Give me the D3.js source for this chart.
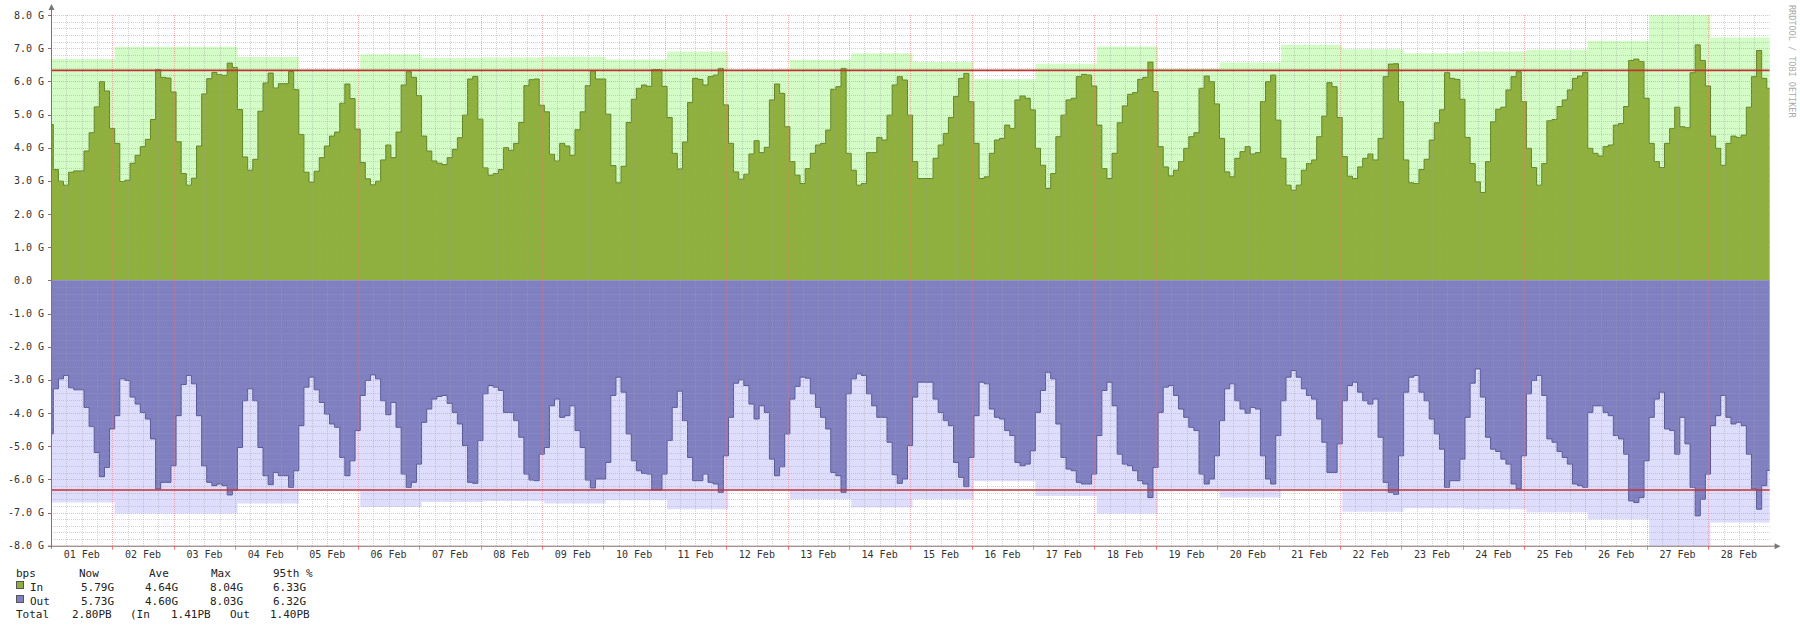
<!DOCTYPE html>
<html><head><meta charset="utf-8">
<script src="https://cdn.jsdelivr.net/npm/d3@7"></script>
<style>
html,body{margin:0;padding:0;background:#fff;}
svg{display:block;}
text{font-family:"DejaVu Sans Mono","Liberation Mono",monospace;white-space:pre;}
</style></head><body>
<svg id="chart" width="1800" height="628"></svg>
<script>
// ---------------- data ----------------
const dayLabels = ["01 Feb","02 Feb","03 Feb","04 Feb","05 Feb","06 Feb","07 Feb","08 Feb","09 Feb","10 Feb",
  "11 Feb","12 Feb","13 Feb","14 Feb","15 Feb","16 Feb","17 Feb","18 Feb","19 Feb","20 Feb",
  "21 Feb","22 Feb","23 Feb","24 Feb","25 Feb","26 Feb","27 Feb","28 Feb"];
const yTickValues = [-8,-7,-6,-5,-4,-3,-2,-1,0,1,2,3,4,5,6,7,8];

// 2-hour averages (Gbps); first value is a partial step before the first full 2h bucket
const inAvg = [4.70,
 3.34,2.99,2.87,3.26,3.30,3.30,3.90,4.45,5.23,5.99,5.71,4.58,
 4.13,2.98,3.02,3.53,3.77,4.03,4.25,4.85,6.35,6.12,6.10,5.68,
 4.18,3.22,2.87,3.08,4.05,5.62,6.08,6.27,6.20,6.18,6.55,6.42,
 5.15,3.72,3.32,3.65,5.10,5.95,6.25,5.80,5.93,5.93,6.30,5.75,
 4.40,3.26,2.96,3.29,3.70,4.05,4.35,4.47,5.34,5.92,5.48,4.56,
 3.55,3.06,2.88,2.99,3.63,4.08,3.70,4.47,5.89,6.29,6.12,5.57,
 4.35,3.90,3.60,3.53,3.49,3.70,3.95,4.30,4.98,6.07,6.15,4.86,
 3.39,3.17,3.22,3.34,4.00,3.92,4.13,4.76,5.87,6.05,6.07,5.28,
 5.08,3.80,3.60,4.13,4.05,3.77,4.54,5.08,5.87,6.32,6.07,6.07,
 5.01,3.46,2.94,3.44,4.76,5.46,5.79,5.89,5.85,6.35,6.35,5.85,
 4.91,3.83,3.36,4.17,5.36,6.09,6.06,5.89,6.14,6.19,6.39,5.29,
 4.13,3.27,3.05,3.20,3.81,4.21,3.85,4.01,5.44,5.92,5.64,4.63,
 3.58,3.17,2.92,3.37,3.83,4.08,4.13,4.53,5.76,5.84,6.39,3.83,
 3.32,2.87,2.92,3.85,3.85,4.31,4.23,4.98,5.89,6.14,6.04,4.98,
 3.58,3.07,3.07,3.07,3.68,4.08,4.43,4.91,5.54,6.09,6.24,5.39,
 4.13,3.07,3.12,3.83,4.23,4.28,4.68,4.58,5.44,5.56,5.49,5.14,
 3.98,3.47,2.77,3.22,4.33,4.98,5.44,5.49,6.14,6.21,6.19,5.86,
 4.68,3.37,3.07,3.83,4.75,5.26,5.61,5.66,6.06,6.12,6.58,5.69,
 4.03,3.42,3.15,3.32,3.58,3.98,4.33,4.45,5.79,6.16,5.99,5.32,
 4.28,3.27,3.12,3.68,3.88,4.03,3.81,3.85,5.39,5.99,6.19,4.83,
 3.68,2.87,2.72,2.87,3.32,3.52,3.63,4.33,4.95,5.96,5.84,4.91,
 3.73,3.14,3.07,3.42,3.68,3.81,3.63,4.28,6.14,6.52,6.53,5.39,
 3.63,2.94,2.92,3.34,3.65,4.23,4.75,5.14,6.26,6.09,6.06,5.46,
 4.31,3.52,2.97,2.65,3.58,4.78,5.16,5.22,5.74,6.14,6.29,5.39,
 3.98,3.40,2.87,3.52,4.81,4.85,5.24,5.44,5.74,6.09,6.16,6.27,
 3.98,3.83,3.75,4.03,4.08,4.68,4.73,5.24,6.63,6.67,6.60,5.49,
 4.13,3.58,3.40,4.13,4.58,5.22,4.63,4.60,6.26,7.10,6.63,5.86,
 4.35,3.98,3.47,4.13,4.35,4.31,4.38,5.22,6.14,6.93,6.09,5.79];

const outAvg = [4.63,
 3.27,2.97,2.87,3.24,3.30,3.30,3.83,4.41,5.19,5.92,5.64,4.48,
 4.08,2.97,3.02,3.52,3.73,3.98,4.18,4.78,6.29,6.09,6.09,5.59,
 4.08,3.14,2.87,3.12,4.08,5.59,6.09,6.19,6.14,6.19,6.47,6.32,
 5.04,3.63,3.27,3.63,5.04,5.89,6.16,5.79,5.89,5.89,6.24,5.74,
 4.38,3.22,2.92,3.30,3.68,4.03,4.33,4.43,5.34,5.89,5.44,4.53,
 3.47,3.02,2.85,2.97,3.63,4.05,3.68,4.43,5.84,6.24,6.09,5.54,
 4.28,3.88,3.58,3.50,3.47,3.71,3.98,4.33,4.98,6.09,6.12,4.83,
 3.42,3.17,3.22,3.32,3.98,3.98,4.23,4.73,5.84,6.02,6.04,5.24,
 5.04,3.78,3.58,4.13,4.08,3.78,4.53,5.04,6.02,6.26,5.99,5.99,
 5.49,3.47,2.92,3.37,4.63,5.44,5.74,5.82,5.84,6.32,6.32,5.84,
 4.83,3.83,3.34,4.23,5.34,6.04,6.04,5.84,6.09,6.14,6.39,5.29,
 4.13,3.10,3.00,3.17,3.73,4.18,3.78,3.98,5.39,5.89,5.62,4.63,
 3.58,3.20,2.92,2.95,3.42,3.83,4.13,4.48,5.79,5.89,6.39,3.42,
 2.97,2.82,2.87,3.42,3.78,4.13,4.13,4.88,5.86,6.12,5.99,4.98,
 3.52,3.07,3.07,3.07,3.58,3.98,4.23,4.38,5.49,5.94,6.22,5.34,
 4.08,3.07,3.12,3.88,4.13,4.18,4.53,4.68,5.49,5.59,5.54,5.14,
 3.98,3.32,2.77,2.97,4.33,5.34,5.69,5.74,6.09,6.14,6.14,5.84,
 4.68,3.32,3.07,3.78,5.24,5.54,5.59,5.74,6.04,6.14,6.55,5.64,
 3.98,3.22,3.17,3.47,3.88,4.13,4.43,4.53,5.84,6.14,5.99,5.29,
 4.23,3.27,3.12,3.63,3.88,4.01,3.83,3.88,5.29,5.99,6.14,4.68,
 3.63,2.92,2.72,2.92,3.27,3.47,3.58,4.18,4.88,5.79,5.79,4.93,
 3.63,3.17,3.07,3.37,3.63,3.73,3.58,4.73,6.09,6.39,6.45,5.29,
 3.37,2.92,2.87,3.37,3.63,4.18,4.63,5.09,6.24,6.04,6.04,5.39,
 4.13,3.10,2.67,3.52,4.73,5.09,5.16,5.39,5.54,6.14,6.29,5.29,
 3.42,3.02,2.87,3.47,4.78,4.88,5.16,5.34,5.54,6.14,6.19,6.24,
 3.98,3.78,3.78,3.98,4.08,4.68,4.78,5.24,6.65,6.70,6.55,5.44,
 4.13,3.58,3.37,4.48,4.53,5.24,4.13,4.93,6.24,7.10,6.60,5.84,
 4.38,4.08,3.47,4.13,4.33,4.28,4.38,5.24,6.29,6.90,6.19,5.73];

// daily maxima (Gbps), one per day 01..28 Feb
const inMax  = [6.67,7.04,7.04,6.73,6.33,6.82,6.70,6.72,6.74,6.66,6.90,6.32,6.65,6.85,
                6.58,6.06,6.53,7.05,6.39,6.57,7.10,6.97,6.85,6.90,6.95,7.22,8.04,7.32];
const outMax = [6.70,7.03,7.03,6.73,6.34,6.83,6.68,6.65,6.73,6.63,6.90,6.32,6.60,6.85,
                6.60,6.06,6.50,7.03,6.36,6.55,6.30,6.98,6.87,6.90,7.00,7.20,8.03,7.30];

const pct95In = 6.33, pct95Out = 6.32;
const avgStepHours = 2, avgFirstStart = -1.1;   // hours relative to 01 Feb 00:00
const maxStepHours = 24, maxFirstStart = 0.9;
const totalHours = 672;

const legendHeader = ["bps","Now","Ave","Max","95th %"];
const legendIn  = ["In","5.79G","4.64G","8.04G","6.33G"];
const legendOut = ["Out","5.73G","4.60G","8.03G","6.32G"];
const legendTotal = ["Total","2.80PB","(In","1.41PB","Out","1.40PB"];

// ---------------- layout ----------------
const L = 51, R = 1769.6, T = 15, B = 545.7;
const svg = d3.select("#chart");
const x = d3.scaleLinear().domain([0, totalHours]).range([L, R]);
const y = d3.scaleLinear().domain([-8, 8]).range([B, T]);

const col = {
  inMax:"#d4fcc6", outMax:"#dedefc", inAvg:"#8fb03f", inLine:"#62862a",
  outAvg:"#8080c0", outLine:"#5a5a98", p95:"#c03434", axis:"#8a6e6e", text:"#333"
};

svg.append("defs").append("clipPath").attr("id","plotclip")
  .append("rect").attr("x",L).attr("y",T).attr("width",R-L).attr("height",B-T);

const g = svg.append("g").attr("clip-path","url(#plotclip)");

// avg steps: step i starts at start + i*step; the first step is extended back to the chart start
function stepPts(arr, start, step, sign){
  const pts = arr.map((v,i)=>({t: i === 0 ? Math.min(0, start) : start + i*step, v: sign*v}));
  pts.push({t:start+arr.length*step, v:sign*arr[arr.length-1]});
  return pts;
}
const area = d3.area().curve(d3.curveStepAfter).x(d=>x(d.t)).y0(y(0)).y1(d=>y(d.v));
const line = d3.line().curve(d3.curveStepAfter).x(d=>x(d.t)).y(d=>y(d.v));

g.append("path").datum(stepPts(inMax, maxFirstStart, maxStepHours, 1)).attr("d",area).attr("fill",col.inMax);
g.append("path").datum(stepPts(outMax, maxFirstStart, maxStepHours, -1)).attr("d",area).attr("fill",col.outMax);
const inPts = stepPts(inAvg, avgFirstStart, avgStepHours, 1);
const outPts = stepPts(outAvg, avgFirstStart, avgStepHours, -1);
g.append("path").datum(inPts).attr("d",area).attr("fill",col.inAvg);
g.append("path").datum(outPts).attr("d",area).attr("fill",col.outAvg);
g.append("path").datum(inPts).attr("d",line).attr("fill","none").attr("stroke",col.inLine).attr("stroke-width",1);
g.append("path").datum(outPts).attr("d",line).attr("fill","none").attr("stroke",col.outLine).attr("stroke-width",1);

// ---------------- grid (drawn over areas, translucent) ----------------
const grid = svg.append("g").attr("shape-rendering","crispEdges");
const minorY = d3.range(-8, 8.001, 0.2).filter(v => Math.abs(v - Math.round(v)) > 1e-6);
grid.selectAll(".gy").data(minorY).join("line")
  .attr("x1",L).attr("x2",R).attr("y1",d=>Math.round(y(d))+0.5).attr("y2",d=>Math.round(y(d))+0.5)
  .attr("stroke","rgba(160,160,160,0.45)").attr("stroke-dasharray","1,1");
const minorX = d3.range(6, totalHours, 6).filter(h => h % 24 !== 0);
grid.selectAll(".gx").data(minorX).join("line")
  .attr("y1",T).attr("y2",B).attr("x1",d=>Math.round(x(d))+0.5).attr("x2",d=>Math.round(x(d))+0.5)
  .attr("stroke","rgba(160,160,160,0.45)").attr("stroke-dasharray","1,1");
grid.selectAll(".my").data(yTickValues).join("line")
  .attr("x1",L).attr("x2",R).attr("y1",d=>Math.round(y(d))+0.5).attr("y2",d=>Math.round(y(d))+0.5)
  .attr("stroke","rgba(255,110,110,0.5)").attr("stroke-dasharray","1,1");
const majorX = d3.range(24, totalHours, 24);
grid.selectAll(".mx").data(majorX).join("line")
  .attr("y1",T).attr("y2",B+3).attr("x1",d=>Math.round(x(d))+0.5).attr("x2",d=>Math.round(x(d))+0.5)
  .attr("stroke","rgba(255,110,110,0.55)").attr("stroke-dasharray","1,1");

// ---------------- 95th percentile ----------------
[pct95In, -pct95Out].forEach(v=>{
  svg.append("line").attr("x1",L).attr("x2",R).attr("y1",y(v)).attr("y2",y(v))
    .attr("stroke",col.p95).attr("stroke-width",1.6);
});

// ---------------- axes ----------------
const ax = svg.append("g");
ax.append("line").attr("x1",L+0.5).attr("x2",L+0.5).attr("y1",B+3).attr("y2",T-6)
  .attr("stroke",col.axis).attr("stroke-width",1);
ax.append("path").attr("d",`M${L-2.5},${T-5} L${L+3.5},${T-5} L${L+0.5},${T-11} Z`).attr("fill","#777");
ax.append("line").attr("x1",L-3).attr("x2",R+6).attr("y1",B+0.5).attr("y2",B+0.5)
  .attr("stroke",col.axis).attr("stroke-width",1);
ax.append("path").attr("d",`M${R+5},${B-2.5} L${R+5},${B+3.5} L${R+11},${B+0.5} Z`).attr("fill","#777");
ax.selectAll(".yt").data(yTickValues).join("line")
  .attr("x1",L-3).attr("x2",L).attr("y1",d=>Math.round(y(d))+0.5).attr("y2",d=>Math.round(y(d))+0.5)
  .attr("stroke",col.axis);
ax.selectAll(".xt").data(majorX).join("line")
  .attr("y1",B).attr("y2",B+4).attr("x1",d=>Math.round(x(d))+0.5).attr("x2",d=>Math.round(x(d))+0.5)
  .attr("stroke","rgba(255,110,110,0.9)");

const fmtY = v => v === 0 ? "0.0  " : `${v.toFixed(1)} G`;
ax.selectAll(".yl").data(yTickValues).join("text")
  .attr("x",44).attr("y",d=>y(d)+3.6).attr("text-anchor","end")
  .attr("font-size",10).attr("fill",col.text).text(fmtY);

ax.selectAll(".xl").data(dayLabels).join("text")
  .attr("x",(d,i)=>x(i*24+12)).attr("y",B+12.5).attr("text-anchor","middle")
  .attr("font-size",10).attr("fill",col.text).text(d=>d);

// watermark
svg.append("text").attr("transform","translate(1789,5) rotate(90)")
  .attr("font-size",8.5).attr("fill","#aaa").text("RRDTOOL / TOBI OETIKER");

// ---------------- legend ----------------
const lg = svg.append("g").attr("font-size",11).attr("fill","#222");
const hx = [16,79,149,211,273];
const vx = [30,81,145,210,273];
legendHeader.forEach((t,i)=>lg.append("text").attr("x",hx[i]).attr("y",577).text(t));
legendIn.forEach((t,i)=>lg.append("text").attr("x",vx[i]).attr("y",590.5).text(t));
legendOut.forEach((t,i)=>lg.append("text").attr("x",vx[i]).attr("y",604.5).text(t));
const tx = [16,72,130,171,230,270];
legendTotal.forEach((t,i)=>lg.append("text").attr("x",tx[i]).attr("y",618).text(t));
lg.append("rect").attr("x",16.5).attr("y",581.5).attr("width",7).attr("height",7)
  .attr("fill",col.inAvg).attr("stroke","#555").attr("stroke-width",1);
lg.append("rect").attr("x",16.5).attr("y",595.5).attr("width",7).attr("height",7)
  .attr("fill",col.outAvg).attr("stroke","#555").attr("stroke-width",1);
</script>
</body></html>
